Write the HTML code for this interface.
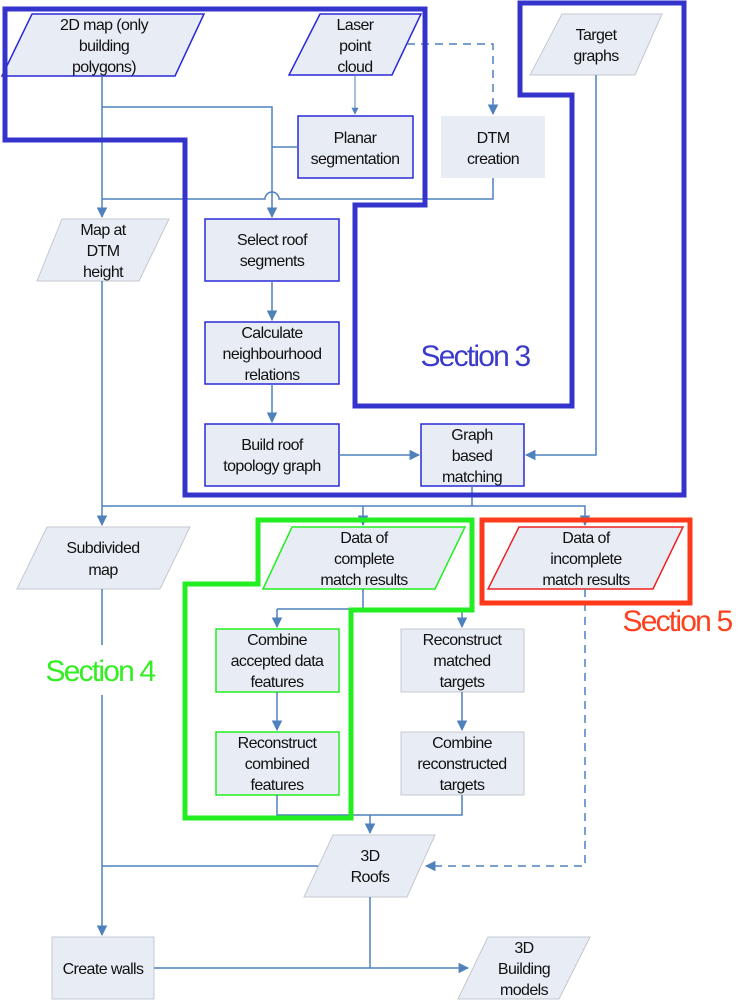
<!DOCTYPE html>
<html><head><style>html,body{margin:0;padding:0;background:#fff}svg{display:block}text{font-family:"Liberation Sans",sans-serif;font-size:16px;fill:#111;text-anchor:middle;letter-spacing:-0.6px}</style></head><body>
<svg width="740" height="1000" viewBox="0 0 740 1000" xmlns="http://www.w3.org/2000/svg">
<defs><marker id="a" viewBox="0 0 10 10" refX="9" refY="5" markerWidth="7" markerHeight="7" orient="auto"><path d="M0,0L10,5L0,10z" fill="#4f81bd"/></marker></defs>
<g fill="#e8edf5">
<polygon points="32,14 204,14 175,76 2,76" stroke="#2a2ad8" stroke-width="1.5"/>
<polygon points="320,14 421,14 392,75 289,75" stroke="#2a2ad8" stroke-width="1.5"/>
<polygon points="562,14 662,14 635,75 530,75" stroke="#c4c8d0" stroke-width="1"/>
<rect x="298" y="116" width="115" height="62" stroke="#2a2ad8" stroke-width="1.5"/>
<rect x="441" y="116" width="104" height="62"/>
<polygon points="62,219 169,219 139,281 37,281" stroke="#c4c8d0" stroke-width="1"/>
<rect x="205" y="219" width="134" height="62" stroke="#2a2ad8" stroke-width="1.5"/>
<rect x="205" y="322" width="134" height="62" stroke="#2a2ad8" stroke-width="1.5"/>
<rect x="205" y="424" width="134" height="62" stroke="#2a2ad8" stroke-width="1.5"/>
<rect x="421" y="424" width="103" height="62" stroke="#2a2ad8" stroke-width="1.5"/>
<polygon points="47,527 190,527 160,589 17,589" stroke="#c4c8d0" stroke-width="1"/>
<polygon points="292,527 465,527 435,589 263,589" stroke="#22ee22" stroke-width="1.5"/>
<polygon points="519,527 683,527 653,589 488,589" stroke="#ee2222" stroke-width="1.5"/>
<rect x="216" y="629" width="123" height="63" stroke="#22ee22" stroke-width="1.5"/>
<rect x="216" y="732" width="123" height="63" stroke="#22ee22" stroke-width="1.5"/>
<rect x="401" y="629" width="123" height="63" stroke="#c4c8d0" stroke-width="1"/>
<rect x="401" y="732" width="123" height="63" stroke="#c4c8d0" stroke-width="1"/>
<polygon points="333,835 435,835 407,897 304,897" stroke="#c4c8d0" stroke-width="1"/>
<rect x="52" y="937" width="102" height="62" stroke="#c4c8d0" stroke-width="1"/>
<polygon points="488,937 590,937 559,999 458,999" stroke="#c4c8d0" stroke-width="1"/>
</g>
<g stroke="#4f81bd" stroke-width="1.5" fill="none">
<path d="M102,76V217" marker-end="url(#a)"/>
<path d="M102,107H272V217" marker-end="url(#a)"/>
<path d="M272,147H298"/>
<path d="M355,75V114" stroke-width="1" marker-end="url(#a)"/>
<path d="M407,44H493V114" stroke-dasharray="8,6" marker-end="url(#a)"/>
<path d="M493,178V199H279A7,7 0 0 0 265,199H102"/>
<path d="M596,75V455H526" marker-end="url(#a)"/>
<path d="M339,455H419" marker-end="url(#a)"/>
<path d="M272,281V320" marker-end="url(#a)"/>
<path d="M272,384V422" marker-end="url(#a)"/>
<path d="M102,281V525" marker-end="url(#a)"/>
<path d="M472,486V506"/>
<path d="M102,506H585V525" marker-end="url(#a)"/>
<path d="M363,506V525" marker-end="url(#a)"/>
<path d="M363,589V609"/>
<path d="M277,609H462V627" marker-end="url(#a)"/>
<path d="M277,609V627" marker-end="url(#a)"/>
<path d="M277,692V730" marker-end="url(#a)"/>
<path d="M462,692V730" marker-end="url(#a)"/>
<path d="M277,795V815H462V795"/>
<path d="M370,815V833" marker-end="url(#a)"/>
<path d="M102,589V645M102,695V935" marker-end="url(#a)"/>
<path d="M318,866H102"/>
<path d="M585,589V866H426" stroke-dasharray="8,6" marker-end="url(#a)"/>
<path d="M370,897V968"/>
<path d="M154,968H468" marker-end="url(#a)"/>
</g>
<polygon points="5,9 425,9 425,205 355,205 355,406 572,406 572,95 520,95 520,3 684,3 684,495 185,495 185,140 5,140" fill="none" stroke="#3434cc" stroke-width="5"/>
<polygon points="258,520 472,520 472,610 351,610 351,818 185,818 185,584 258,584" fill="none" stroke="#22ee22" stroke-width="5"/>
<rect x="482" y="520" width="208" height="83" fill="none" stroke="#ff3a1a" stroke-width="5"/>
<text x="104" y="30">2D map (only</text><text x="104" y="51">building</text><text x="104" y="72">polygons)</text>
<text x="355" y="30">Laser</text><text x="355" y="51">point</text><text x="355" y="72">cloud</text>
<text x="596" y="40">Target</text><text x="596" y="61">graphs</text>
<text x="355" y="143">Planar</text><text x="355" y="164">segmentation</text>
<text x="493" y="143">DTM</text><text x="493" y="164">creation</text>
<text x="103" y="235">Map at</text><text x="103" y="256">DTM</text><text x="103" y="277">height</text>
<text x="272" y="245">Select roof</text><text x="272" y="266">segments</text>
<text x="272" y="338">Calculate</text><text x="272" y="359">neighbourhood</text><text x="272" y="380">relations</text>
<text x="272" y="450">Build roof</text><text x="272" y="471">topology graph</text>
<text x="472" y="440">Graph</text><text x="472" y="461">based</text><text x="472" y="482">matching</text>
<text x="103" y="553">Subdivided</text><text x="103" y="575">map</text>
<text x="364" y="543">Data of</text><text x="364" y="564">complete</text><text x="364" y="585">match results</text>
<text x="586" y="543">Data of</text><text x="586" y="564">incomplete</text><text x="586" y="585">match results</text>
<text x="277" y="645">Combine</text><text x="277" y="666">accepted data</text><text x="277" y="687">features</text>
<text x="277" y="748">Reconstruct</text><text x="277" y="769">combined</text><text x="277" y="790">features</text>
<text x="462" y="645">Reconstruct</text><text x="462" y="666">matched</text><text x="462" y="687">targets</text>
<text x="462" y="748">Combine</text><text x="462" y="769">reconstructed</text><text x="462" y="790">targets</text>
<text x="370" y="861">3D</text><text x="370" y="882">Roofs</text>
<text x="103" y="974">Create walls</text>
<text x="524" y="953">3D</text><text x="524" y="974">Building</text><text x="524" y="995">models</text>
<text x="475" y="366" style="font-size:30px;fill:#3a3acc;letter-spacing:-1.8px">Section 3</text>
<text x="100" y="681" style="font-size:30px;fill:#33ee22;letter-spacing:-1.8px">Section 4</text>
<text x="677" y="631" style="font-size:30px;fill:#ff4020;letter-spacing:-1.8px">Section 5</text>
</svg>
</body></html>
